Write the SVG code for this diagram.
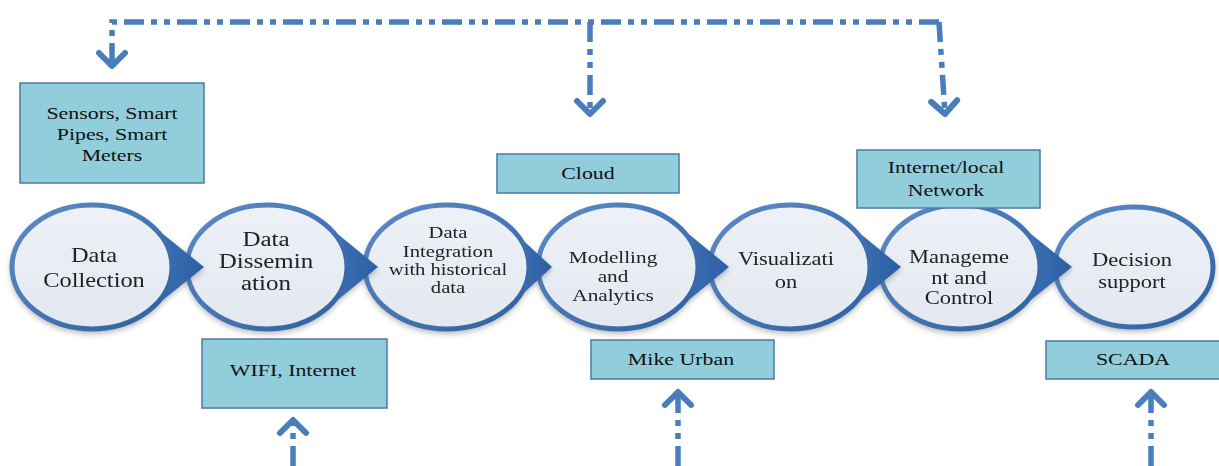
<svg xmlns="http://www.w3.org/2000/svg" width="1219" height="466" viewBox="0 0 1219 466">
<style>
.box{fill:#92cddc;stroke:#4a7aa8;stroke-width:1.5}
.bt{font-family:"Liberation Serif","Times New Roman",serif;font-size:17.5px;fill:#111;text-anchor:middle}
.nt{font-family:"Liberation Serif","Times New Roman",serif;fill:#222;text-anchor:middle}
.conn{fill:none;stroke:#4a7ebb;stroke-width:5.5;stroke-dasharray:20 7 6 7 6 7}
.ell{fill:url(#fillG);stroke:url(#strokeG);stroke-width:5}
.wedge{fill:url(#wedgeG);stroke:none}
</style>
<defs>
<linearGradient id="fillG" x1="0" y1="0" x2="0" y2="1">
<stop offset="0" stop-color="#eef1f7"/>
<stop offset="1" stop-color="#e3e8f0"/>
</linearGradient>
<linearGradient id="strokeG" x1="0" y1="0" x2="1" y2="1">
<stop offset="0" stop-color="#5d8cc8"/>
<stop offset="1" stop-color="#2e5f9f"/>
</linearGradient>
<linearGradient id="wedgeG" x1="0" y1="0" x2="1" y2="0">
<stop offset="0" stop-color="#3f72b6"/>
<stop offset="1" stop-color="#2c5fa5"/>
</linearGradient>
<filter id="sh" x="-20%" y="-20%" width="140%" height="150%">
<feDropShadow dx="0" dy="3" stdDeviation="2.5" flood-color="#555" flood-opacity="0.35"/>
</filter>
<marker id="chev" markerUnits="userSpaceOnUse" markerWidth="40" markerHeight="40" viewBox="-20 -20 40 40" refX="0" refY="0" orient="auto">
<path d="M-13,-13 L0,0 L-13,13" fill="none" stroke="#4a7ebb" stroke-width="6" stroke-linecap="round" stroke-linejoin="round"/>
</marker>
</defs>
<rect width="1219" height="466" fill="#fff"/>

<g id="nodes-process">
<g id="n7" filter="url(#sh)">
<ellipse class="ell" cx="1134" cy="267" rx="79" ry="60"/>
<text class="nt" font-size="18" transform="translate(1132,0) scale(1.25,1)"><tspan x="0" y="266">Decision</tspan><tspan x="0" y="288">support</tspan></text>
</g>
<g id="n6" filter="url(#sh)">
<path class="wedge" d="M1016.6,222.5 L1072,267 L1016.6,311.5 Z"/>
<ellipse class="ell" cx="960" cy="267" rx="80" ry="62"/>
<text class="nt" font-size="18" transform="translate(959,0) scale(1.25,1)"><tspan x="0" y="263">Manageme</tspan><tspan x="0" y="284">nt and</tspan><tspan x="0" y="304">Control</tspan></text>
</g>
<g id="n5" filter="url(#sh)">
<path class="wedge" d="M846.6,222.5 L901,267 L846.6,311.5 Z"/>
<ellipse class="ell" cx="790" cy="267" rx="80" ry="62"/>
<text class="nt" font-size="18" transform="translate(786,0) scale(1.25,1)"><tspan x="0" y="265">Visualizati</tspan><tspan x="0" y="288">on</tspan></text>
</g>
<g id="n4" filter="url(#sh)">
<path class="wedge" d="M674.6,222.5 L729,267 L674.6,311.5 Z"/>
<ellipse class="ell" cx="618" cy="267" rx="80" ry="62"/>
<text class="nt" font-size="17" transform="translate(613,0) scale(1.25,1)"><tspan x="0" y="263">Modelling</tspan><tspan x="0" y="282">and</tspan><tspan x="0" y="301">Analytics</tspan></text>
</g>
<g id="n3" filter="url(#sh)">
<path class="wedge" d="M503.6,222.5 L552,267 L503.6,311.5 Z"/>
<ellipse class="ell" cx="447" cy="267" rx="82" ry="62"/>
<text class="nt" font-size="16.5" transform="translate(448,0) scale(1.25,1)"><tspan x="0" y="238">Data</tspan><tspan x="0" y="257">Integration</tspan><tspan x="0" y="275">with historical</tspan><tspan x="0" y="293">data</tspan></text>
</g>
<g id="n2" filter="url(#sh)">
<path class="wedge" d="M323.6,222.5 L378,267 L323.6,311.5 Z"/>
<ellipse class="ell" cx="267" cy="267" rx="80" ry="62"/>
<text class="nt" font-size="20" transform="translate(266,0) scale(1.25,1)"><tspan x="0" y="246">Data</tspan><tspan x="0" y="268">Dissemin</tspan><tspan x="0" y="290">ation</tspan></text>
</g>
<g id="n1" filter="url(#sh)">
<path class="wedge" d="M148.6,222.5 L204,267 L148.6,311.5 Z"/>
<ellipse class="ell" cx="92" cy="267" rx="80" ry="62"/>
<text class="nt" font-size="20" transform="translate(94,0) scale(1.22,1)"><tspan x="0" y="262">Data</tspan><tspan x="0" y="287">Collection</tspan></text>
</g>
</g>

<g id="connectors">
<path class="conn" d="M939,22 L112,22 L112,66" marker-end="url(#chev)"/>
<path class="conn" d="M590,22 L590,114" marker-end="url(#chev)"/>
<path class="conn" d="M939,22 L945,114" marker-end="url(#chev)"/>
<path class="conn" d="M293,466 L293,420" marker-end="url(#chev)"/>
<path class="conn" d="M678,466 L678,392" marker-end="url(#chev)"/>
<path class="conn" d="M1151,466 L1151,392" marker-end="url(#chev)"/>
</g>

<g id="box-sensors">
<rect class="box" x="20" y="83" width="184" height="100"/>
<text class="bt" transform="translate(112,0) scale(1.25,1)"><tspan x="0" y="119">Sensors, Smart</tspan><tspan x="0" y="140">Pipes, Smart</tspan><tspan x="0" y="161">Meters</tspan></text>
</g>
<g id="box-cloud">
<rect class="box" x="497" y="154" width="182" height="39"/>
<text class="bt" transform="translate(588,0) scale(1.25,1)"><tspan x="0" y="179">Cloud</tspan></text>
</g>
<g id="box-internet">
<rect class="box" x="857" y="150" width="183" height="58"/>
<text class="bt" transform="translate(946,0) scale(1.25,1)"><tspan x="0" y="173">Internet/local</tspan><tspan x="0" y="196">Network</tspan></text>
</g>
<g id="box-wifi">
<rect class="box" x="202" y="339" width="185" height="69"/>
<text class="bt" transform="translate(293,0) scale(1.25,1)"><tspan x="0" y="376">WIFI, Internet</tspan></text>
</g>
<g id="box-mike">
<rect class="box" x="591" y="340" width="183" height="39"/>
<text class="bt" transform="translate(681,0) scale(1.25,1)"><tspan x="0" y="365">Mike Urban</tspan></text>
</g>
<g id="box-scada">
<rect class="box" x="1046" y="341" width="175" height="38"/>
<text class="bt" font-size="18" transform="translate(1133,0) scale(1.25,1)"><tspan x="0" y="365">SCADA</tspan></text>
</g>
</svg>
